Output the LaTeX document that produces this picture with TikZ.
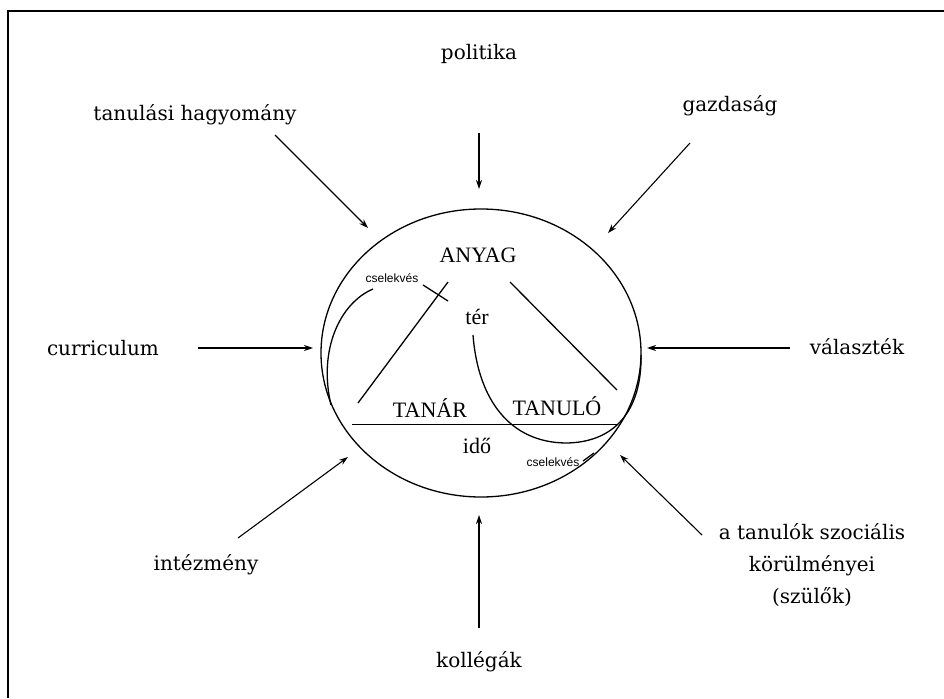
\documentclass[tikz,border=0pt]{standalone}
\usepackage{fontspec}
\setmainfont{DejaVu Serif}
\newfontfamily\innerfont{Liberation Serif}
\newfontfamily\smallsans{Liberation Sans}
\usetikzlibrary{arrows.meta,shapes.geometric}
\begin{document}
\begin{tikzpicture}[x=1pt,y=-1pt,
  outer/.style={font=\fontsize{20}{32}\selectfont, inner sep=0pt, align=center},
  innerlbl/.style={font=\innerfont\fontsize{22}{24}\selectfont, inner sep=0pt},
  tinylbl/.style={font=\smallsans\fontsize{12}{14}\selectfont, inner sep=0pt},
  infl/.style={-{Stealth[length=9pt,width=6pt]}, line width=1.1pt},
  ring/.style={line width=1.3pt},
  thinline/.style={line width=0.8pt}]
\useasboundingbox (0,0) rectangle (944,698);
\draw[line width=1.5pt] (8,698) -- (8,11) -- (944,11);

% outer labels
\node[outer] (pol) at (479,54) {politika};
\node[outer] (tan) at (195,115) {tanulási hagyomány};
\node[outer] (gaz) at (730,106) {gazdaság};
\node[outer] (cur) at (103,348) {curriculum};
\node[outer] (val) at (857,347) {választék};
\node[outer] (int) at (206,565) {intézmény};
\node[outer] (szoc) at (812,565) {a tanulók szociális\\körülményei\\(szülők)};
\node[outer] (kol) at (479,662) {kollégák};

% arrow ends
\coordinate (polS) at (479,133); \coordinate (polE) at (479,189);
\coordinate (tanS) at (275,135); \coordinate (tanE) at (368,228);
\coordinate (gazS) at (690,143); \coordinate (gazE) at (608,233);
\coordinate (curS) at (198,348); \coordinate (curE) at (313,348);
\coordinate (valS) at (790,348); \coordinate (valE) at (647,348);
\coordinate (intS) at (238,538); \coordinate (intE) at (348,457);
\coordinate (szoS) at (702,535); \coordinate (szoE) at (620,455);
\coordinate (kolS) at (479,628); \coordinate (kolE) at (479,515);

\draw[infl] (polS) -- (polE);
\draw[infl] (tanS) -- (tanE);
\draw[infl] (gazS) -- (gazE);
\draw[infl] (curS) -- (curE);
\draw[infl] (valS) -- (valE);
\draw[infl] (intS) -- (intE);
\draw[infl] (szoS) -- (szoE);
\draw[infl] (kolS) -- (kolE);

% big circle
\node[draw, ring, ellipse, minimum width=320pt, minimum height=288pt, inner sep=0pt] (circ) at (481,353) {};

% inner labels
\node[innerlbl] (anyag) at (478,255) {ANYAG};
\node[innerlbl] (ter) at (477,317) {tér};
\node[innerlbl] (tanar) at (430,408) {TANÁR};
\node[innerlbl] (tanulo) at (557,406) {TANULÓ};
\node[innerlbl] (ido) at (477,446) {idő};
\node[tinylbl] (cs1) at (392,278) {cselekvés};
\node[tinylbl] (cs2) at (553,462) {cselekvés};

% triangle and base line
\coordinate (tA) at (358,403); \coordinate (tB) at (448,282);
\coordinate (uA) at (510,282); \coordinate (uB) at (617,390);
\coordinate (bL) at (352,424); \coordinate (bR) at (617,424);
\draw[ring] (tA) -- (tB);
\draw[ring] (uA) -- (uB);
\draw[thinline] (bL) -- (bR);

% action loops
\coordinate (l1) at (373,289); \coordinate (l2) at (331,405);
\draw[ring] (l1) .. controls (340,303) and (318,350) .. (l2);
\coordinate (k1) at (423,285); \coordinate (k2) at (448,301);
\draw[ring] (k1) -- (k2);
\coordinate (r1) at (473,335); \coordinate (r2) at (565,443); \coordinate (r3) at (641,355);
\draw[ring] (r1) .. controls (478,400) and (510,442) .. (r2) .. controls (615,443) and (642,410) .. (r3);
\coordinate (m1) at (583,461); \coordinate (m2) at (594,453);
\draw[ring] (m1) -- (m2);
\end{tikzpicture}
\end{document}
